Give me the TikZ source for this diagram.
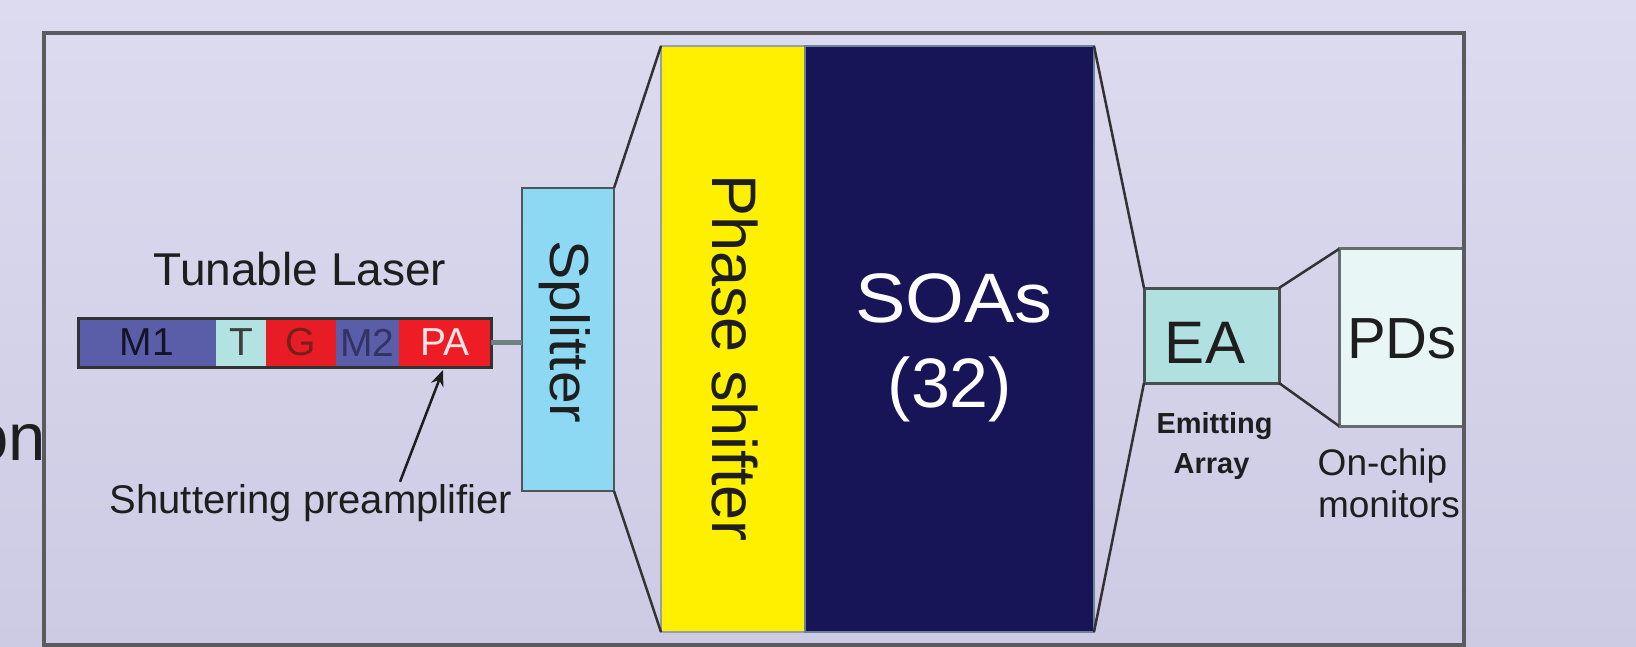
\documentclass[tikz,border=0pt]{standalone}
\usepackage{fontspec}
\setmainfont{Liberation Sans}
\usetikzlibrary{arrows.meta}
\definecolor{bgtop}{RGB}{221,219,239}
\definecolor{bgbot}{RGB}{205,203,228}
\definecolor{mone}{RGB}{90,94,168}
\definecolor{tcol}{RGB}{178,226,226}
\definecolor{gcol}{RGB}{232,28,36}
\definecolor{pacol}{RGB}{238,28,37}
\definecolor{m1txt}{RGB}{20,20,40}
\definecolor{ttxt}{RGB}{60,60,60}
\definecolor{gtxt}{RGB}{120,30,30}
\definecolor{m2txt}{RGB}{50,50,100}
\definecolor{patxt}{RGB}{255,230,230}
\definecolor{laserbd}{RGB}{50,50,50}
\definecolor{splitcol}{RGB}{141,216,242}
\definecolor{splitbd}{RGB}{80,85,90}
\definecolor{yel}{RGB}{255,240,0}
\definecolor{psbd}{RGB}{150,160,170}
\definecolor{navy}{RGB}{23,20,88}
\definecolor{soabd}{RGB}{110,130,150}
\definecolor{eacol}{RGB}{176,224,224}
\definecolor{eabd}{RGB}{70,80,80}
\definecolor{pdcol}{RGB}{232,246,246}
\definecolor{pdbd}{RGB}{100,110,110}
\definecolor{framecol}{RGB}{90,90,95}
\definecolor{edgecol}{RGB}{50,50,50}
\definecolor{conncol}{RGB}{110,128,128}
\definecolor{txtdark}{RGB}{30,30,30}
\begin{document}
\begin{tikzpicture}[x=1pt,y=-1pt,
  box/.style={inner sep=0pt, outer sep=0pt},
  seg/.style={box, minimum height=49pt, font=\fontsize{39}{42}\selectfont},
  edge/.style={draw=edgecol, line width=2.5pt},
  conn/.style={draw=conncol, line width=5pt},
  lbl/.style={inner sep=0pt, text=txtdark},
  arr/.style={draw=txtdark, line width=2.5pt, -{Stealth[length=16pt,width=13pt]}}
]
\useasboundingbox (0,0) rectangle (1636,647);
\clip (0,0) rectangle (1636,647);
\shade[top color=bgtop,bottom color=bgbot] (0,0) rectangle (1636,647);
\node[lbl, anchor=base east, font=\fontsize{67}{70}\selectfont] (on) at (46,460) {on};

% laser
\node[seg, fill=mone, minimum width=138pt, text=m1txt] (m1) at (147,342.5) {M1};
\node[seg, fill=tcol, minimum width=50pt, text=ttxt] (t) at (241,342.5) {T};
\node[seg, fill=gcol, minimum width=70pt, text=gtxt] (g) at (301,342.5) {G};
\node[seg, fill=mone, minimum width=63pt, text=m2txt] (m2) at (367.5,342.5) {M2};
\node[seg, fill=pacol, minimum width=92pt, text=patxt] (pa) at (445,342.5) {PA};
\node[box, draw=laserbd, line width=3pt, minimum width=413pt, minimum height=49pt] (lasr) at (284.5,342.5) {};
\node[lbl, anchor=base, font=\fontsize{46}{50}\selectfont] (tl) at (300,285) {Tunable Laser};
\node[lbl, anchor=base, font=\fontsize{40}{44}\selectfont] (shut) at (311,513) {Shuttering preamplifier};
\draw[arr] ([xshift=89pt,yshift=2pt]shut.north) -- ([xshift=-2pt,yshift=-3pt]pa.south);

% splitter
\node[box, fill=splitcol, draw=splitbd, line width=2.5pt, minimum width=92pt, minimum height=303pt] (split) at (568,339.5) {};
\node[lbl, rotate=-90, font=\fontsize{55}{60}\selectfont] (splittxt) at (565,332) {\scalebox{1.07}[1]{Splitter}};
\draw[conn] (lasr.east) -- (lasr.east -| split.west);

% phase shifter and SOAs
\node[box, fill=yel, draw=psbd, line width=1.5pt, minimum width=144pt, minimum height=586pt] (ps) at (733,339) {};
\node[lbl, rotate=-90, font=\fontsize{63}{68}\selectfont] (pstxt) at (735,358) {Phase shifter};
\node[box, fill=navy, draw=soabd, line width=1.5pt, minimum width=289pt, minimum height=586pt] (soa) at (949.5,339) {};
\node[lbl, anchor=base, text=white, font=\fontsize{70}{76}\selectfont] (soat1) at (954,322) {\scalebox{1.08}[1]{SOAs}};
\node[lbl, anchor=base, text=white, font=\fontsize{70}{76}\selectfont] (soat2) at (950,407) {(32)};

% EA and PDs
\node[box, fill=eacol, draw=eabd, line width=3pt, minimum width=135pt, minimum height=95pt] (ea) at (1211.5,335.5) {};
\node[lbl, anchor=base, font=\fontsize{60}{64}\selectfont] (eatxt) at (1205,363) {EA};
\node[box, fill=pdcol, draw=pdbd, line width=3pt, minimum width=125pt, minimum height=177pt] (pd) at (1401.5,337.5) {};
\node[lbl, anchor=base west, font=\fontsize{58}{62}\selectfont] (pdtxt) at (1347,358) {PDs};
\node[lbl, anchor=base, font=\bfseries\fontsize{29}{32}\selectfont] (em1) at (1214.5,433) {Emitting};
\node[lbl, anchor=base, font=\bfseries\fontsize{29}{32}\selectfont] (em2) at (1211.5,473) {Array};
\node[lbl, anchor=base, font=\fontsize{37}{40}\selectfont] (oc1) at (1382.5,475) {On-chip};
\node[lbl, anchor=base, font=\fontsize{37}{40}\selectfont] (oc2) at (1389,517) {monitors};

% taper edges
\draw[edge] (split.north east) -- (ps.north west);
\draw[edge] (split.south east) -- (ps.south west);
\draw[edge] (soa.north east) -- (ea.north west);
\draw[edge] (soa.south east) -- (ea.south west);
\draw[edge] (ea.north east) -- (pd.north west);
\draw[edge] (ea.south east) -- (pd.south west);

% frame
\node[box, draw=framecol, line width=4pt, minimum width=1420pt, minimum height=612pt] (frame) at (754,339) {};
\end{tikzpicture}
\end{document}
